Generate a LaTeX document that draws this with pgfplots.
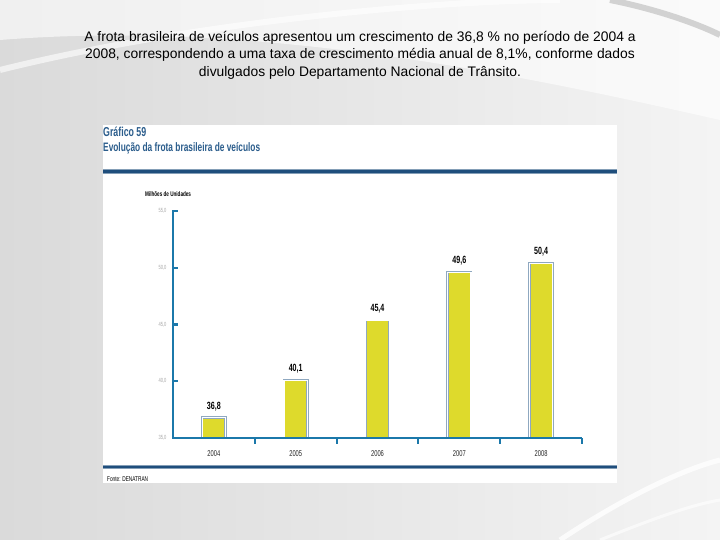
\documentclass[border=0pt]{standalone}
\usepackage{fontspec}
\setmainfont{Liberation Sans}
\newfontfamily\cond[FakeStretch=0.68]{Liberation Sans}
\usepackage{pgfplots}
\pgfplotsset{compat=1.18}
\definecolor{axisblue}{HTML}{1B78AA}
\definecolor{navy}{HTML}{1F4E7C}
\definecolor{titleblue}{HTML}{2B5D8C}
\definecolor{baryellow}{HTML}{DEDA2C}
\definecolor{outline}{HTML}{8FA8C0}
\definecolor{bgA}{HTML}{DADADA}
\definecolor{bgB}{HTML}{F4F4F4}
\begin{document}
\begin{tikzpicture}[x=1bp,y=1bp]
\useasboundingbox (0,0) rectangle (720,540);
\shade[left color=bgA, right color=bgB] (0,0) rectangle (720,540);
\fill[white, opacity=0.6] (0,540) -- (720,540) -- (720,420) .. controls (500,470) and (250,520) .. (0,500) -- cycle;
\draw[white, line width=6bp, opacity=0.6] (0,470) .. controls (200,520) and (450,540) .. (560,540);
\draw[gray!35, line width=6bp] (610,540) .. controls (660,530) and (700,515) .. (720,505);
\draw[white, line width=5bp, opacity=0.8] (560,0) .. controls (620,40) and (680,70) .. (720,80);
\draw[white, line width=3bp, opacity=0.6] (600,0) .. controls (650,20) and (690,35) .. (720,40);
% text
\node[anchor=north, align=center, inner sep=0pt, font=\fontsize{13.9}{17.5}\selectfont] at (360,509)
 {A frota brasileira de veículos apresentou um crescimento de 36,8 \% no período de 2004 a\\
  2008, correspondendo a uma taxa de crescimento média anual de 8,1\%, conforme dados\\
  divulgados pelo Departamento Nacional de Trânsito.};
% chart panel
\fill[white] (103,57) rectangle (617,415);
\node[anchor=base west, inner sep=0pt, font=\cond\bfseries\fontsize{13}{13}\selectfont, text=titleblue] at (103,403) {Gráfico 59};
\node[anchor=base west, inner sep=0pt, font=\cond\bfseries\fontsize{12.3}{12.3}\selectfont, text=titleblue] at (103,388) {Evolução da frota brasileira de veículos};
\fill[navy!55!white] (103,366) rectangle (617,370.5);
\fill[navy] (103,367) rectangle (617,369.5);
\fill[navy!55!white] (103,71) rectangle (617,74.5);
\fill[navy] (103,72) rectangle (617,74);
\node[anchor=base west, inner sep=0pt, font=\cond\bfseries\fontsize{6.8}{6.8}\selectfont] at (145,343) {Milhões de Unidades};
\node[anchor=base west, inner sep=0pt, font=\cond\fontsize{7}{7}\selectfont] at (107,58) {Fonte: DENATRAN};
\begin{axis}[
  at={(173bp,102bp)}, anchor=south west, scale only axis,
  width=409bp, height=227bp,
  xmin=-0.5, xmax=4.5, ymin=35, ymax=55,
  axis x line*=bottom, axis y line*=left,
  axis line style={axisblue, line width=2.6bp, -},
  axis on top,
  tick align=center,
  major tick length=6bp, minor tick length=6bp,
  xtick={0,1,2,3,4}, xticklabels={2004,2005,2006,2007,2008},
  major x tick style={draw=none},
  minor xtick={0.5,1.5,2.5,3.5,4.5},
  minor x tick style={axisblue, line width=2bp, yshift=-3bp},
  ytick={35,40,45,50,55},
  yticklabels={{35,0},{40,0},{45,0},{50,0},{55,0}},
  major y tick style={axisblue, line width=2.2bp, xshift=2bp},
  xticklabel style={font=\cond\fontsize{8.5}{8.5}\selectfont, text=black!85, yshift=-6bp},
  yticklabel style={font=\cond\fontsize{6}{6}\selectfont, text=gray!70},
]
\addplot[ybar, bar width=23.4bp, bar shift=0pt, fill=baryellow, draw=outline,
  double=white, double distance=1.2bp, line width=0.6bp,
  point meta=explicit symbolic, nodes near coords,
  nodes near coords style={font=\cond\bfseries\fontsize{10.5}{10.5}\selectfont, text=black, draw=none, anchor=south, inner sep=0pt, yshift=6.5bp}]
coordinates {(0,36.8) [36,8] (1,40.1) [40,1] (2,45.4) [45,4] (3,49.6) [49,6] (4,50.4) [50,4]};
\end{axis}
\end{tikzpicture}
\end{document}
